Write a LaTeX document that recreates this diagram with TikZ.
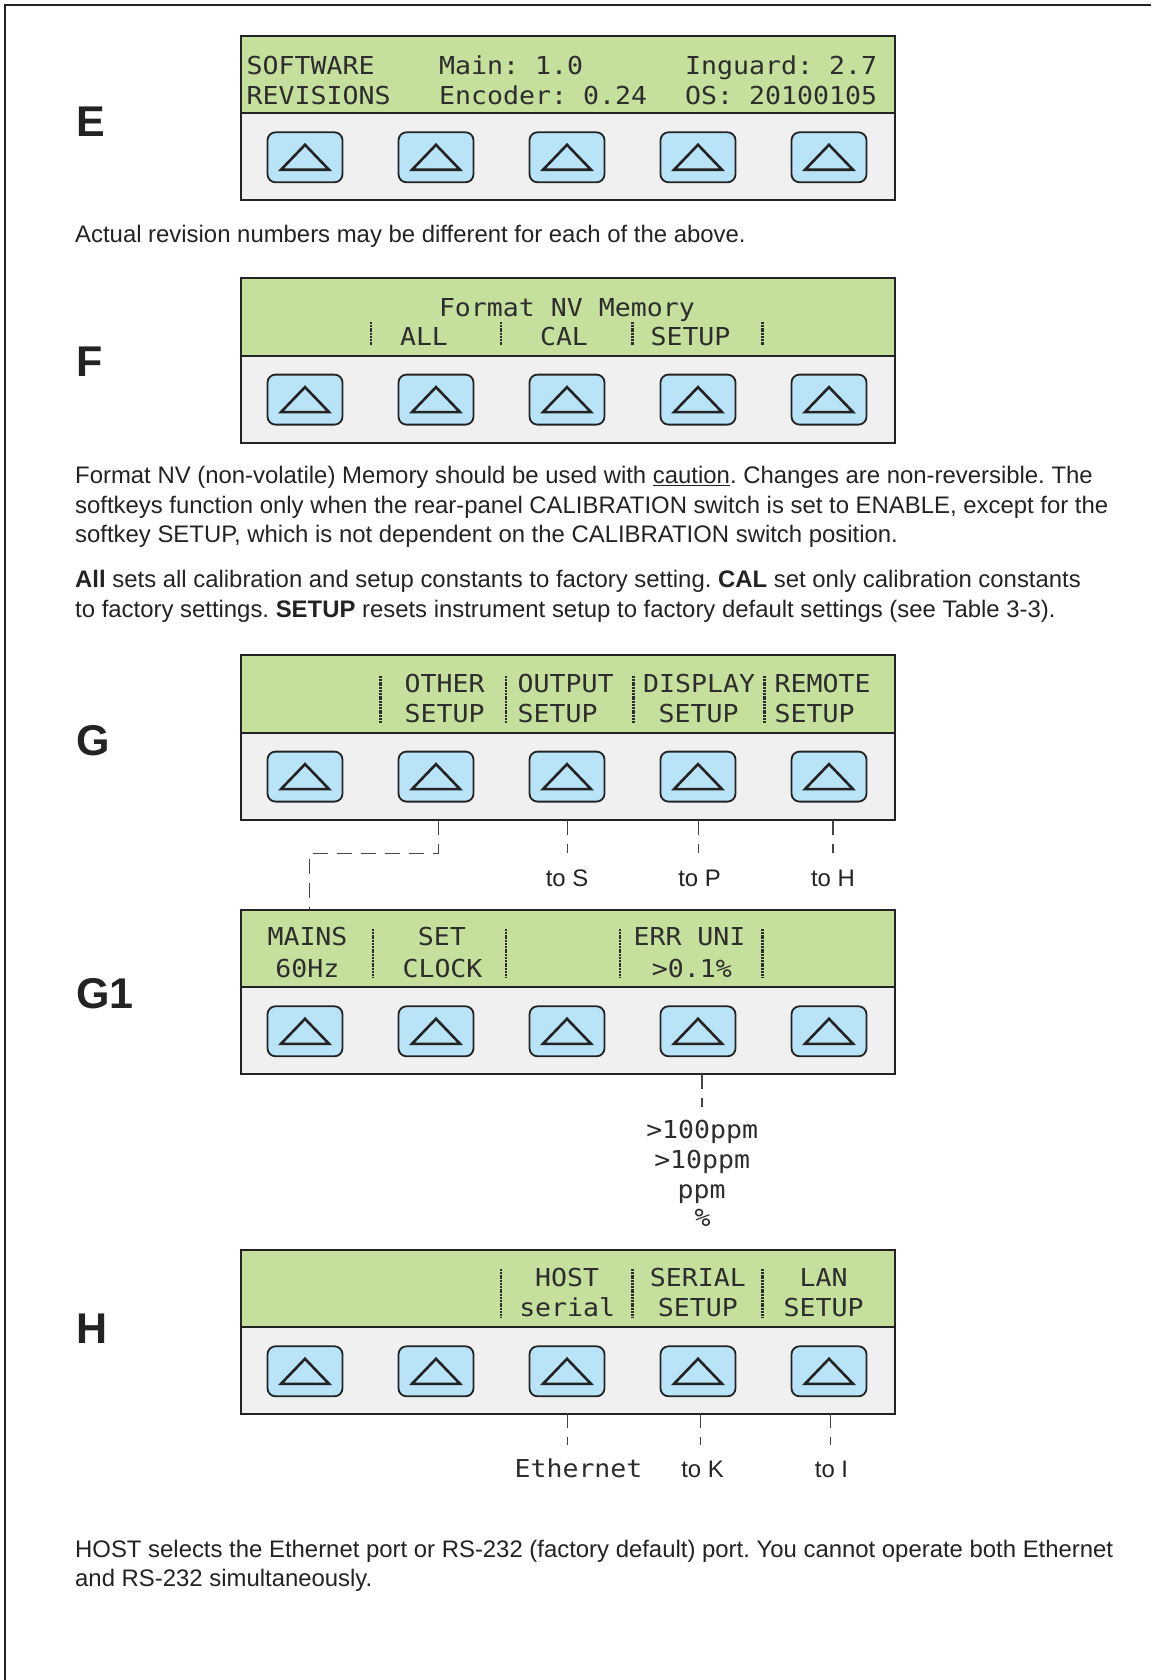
\documentclass[tikz,border=0pt]{standalone}
\usepackage{fontspec}
\setmainfont{Liberation Sans}
\newfontfamily\lcdfont[FakeStretch=1.075]{DejaVu Sans Mono}
\definecolor{lcdgreen}{RGB}{197,223,156}
\definecolor{keygray}{RGB}{240,240,240}
\definecolor{keyblue}{RGB}{185,227,247}
\definecolor{ink}{RGB}{35,35,35}
\definecolor{lcdink}{RGB}{45,45,45}
\tikzset{
  lcd/.style={font=\lcdfont\fontsize{24.7}{30}\selectfont, text=lcdink, inner sep=0pt},
  body/.style={font=\fontsize{23.9}{30}\selectfont, text=ink, inner sep=0pt, anchor=base west},
  tolab/.style={font=\fontsize{23.9}{30}\selectfont, text=ink, inner sep=0pt, anchor=base},
  bigl/.style={font=\bfseries\fontsize{43}{50}\selectfont, text=ink, inner sep=0pt, anchor=base west},
  keybox/.style={draw=ink, fill=keyblue, line width=1.8pt, rounded corners=8pt, minimum width=75pt, minimum height=50pt, inner sep=0pt},
  keytri/.style={draw=ink, line width=2.6pt, line join=miter},
  panelline/.style={draw=ink, line width=2pt},
  sepbar/.style={draw=lcdink, line width=2.6pt, dash pattern=on 2pt off 0.8pt},
  lead/.style={draw=ink!85, line width=1.6pt, dash pattern=on 15pt off 9pt},
}
\newcommand\lcdpanel[2]{%
  \begin{scope}[yshift=-#2pt]
    \fill[keygray] (241,77.3) rectangle (895,164.3);
    \fill[lcdgreen] (241,0) rectangle (895,77.3);
    \draw[panelline] (241,77.3) -- (895,77.3);
    \draw[panelline] (241,0) rectangle (895,164.3);
    \coordinate (#1top) at (568,0);
    \foreach \i/\cx in {1/305,2/436,3/567,4/698,5/829}{
      \node[keybox] (#1k\i) at (\cx,121.3) {};
      \draw[keytri] (\cx-24,133.8) -- (\cx,108.8) -- (\cx+24,133.8) -- cycle;
    }
  \end{scope}}
\begin{document}
\frenchspacing
\begin{tikzpicture}[x=1pt,y=-1pt]
\useasboundingbox (0,0) rectangle (1151,1680);
\fill[white] (0,0) rectangle (1151,1680);
\draw[draw=ink, line width=2.5pt] (5,1680) -- (5,5) -- (1151,5);

% ---------- E ----------
\node[bigl] (labE) at (76,136.5) {E};
\lcdpanel{E}{36}
\node[lcd, anchor=base west] (e11) at (246.5,75) {SOFTWARE};
\node[lcd, anchor=base west] (e12) at (439,75) {Main: 1.0};
\node[lcd, anchor=base west] (e13) at (685,75) {Inguard: 2.7};
\node[lcd, anchor=base west] (e21) at (246.5,104.3) {REVISIONS};
\node[lcd, anchor=base west] (e22) at (439,104.3) {Encoder: 0.24};
\node[lcd, anchor=base west] (e23) at (685,104.3) {OS: 20100105};
\node[body] (p1) at (75,243) {Actual revision numbers may be different for each of the above.};

% ---------- F ----------
\node[bigl] (labF) at (76,376) {F};
\lcdpanel{F}{278.3}
\node[lcd, anchor=base west] (f1) at (438.8,316.7) {Format NV Memory};
\node[lcd, anchor=base] (f2) at (424,345) {ALL};
\node[lcd, anchor=base] (f3) at (564,345) {CAL};
\node[lcd, anchor=base] (f4) at (690.5,345) {SETUP};
\foreach \x in {371,501,632.4,762.5} \draw[sepbar] (\x,322) -- (\x,345);

\node[body] (p2a) at (75,483.3) {Format NV (non-volatile) Memory should be used with \underline{caution}. Changes are non-reversible. The};
\node[body] (p2b) at (75,513.3) {softkeys function only when the rear-panel CALIBRATION switch is set to ENABLE, except for the};
\node[body] (p2c) at (75,542.3) {softkey SETUP, which is not dependent on the CALIBRATION switch position.};
\node[body] (p3a) at (75,587.3) {\textbf{All} sets all calibration and setup constants to factory setting. \textbf{CAL} set only calibration constants};
\node[body] (p3b) at (75,617.3) {to factory settings. \textbf{SETUP} resets instrument setup to factory default settings (see Table 3-3).};

% ---------- G ----------
\node[bigl] (labG) at (76,755) {G};
\lcdpanel{G}{655.3}
\node[lcd, anchor=base west] (g11) at (404.5,692.7) {OTHER};
\node[lcd, anchor=base west] (g12) at (517.5,692.7) {OUTPUT};
\node[lcd, anchor=base west] (g13) at (643,692.7) {DISPLAY};
\node[lcd, anchor=base west] (g14) at (774.5,692.7) {REMOTE};
\node[lcd, anchor=base west] (g21) at (404.5,722.7) {SETUP};
\node[lcd, anchor=base west] (g22) at (517.5,722.7) {SETUP};
\node[lcd, anchor=base west] (g23) at (658.5,722.7) {SETUP};
\node[lcd, anchor=base west] (g24) at (774.5,722.7) {SETUP};
\foreach \x in {380.7,506,633.3,764.3} \draw[sepbar] (\x,676) -- (\x,722.7);

\coordinate (Gd2) at (438.5,819.6);
\coordinate (Gc1) at (438.5,853.3);
\coordinate (Gc2) at (309.5,853.3);
\coordinate (Gd3) at (567.3,819.6);
\coordinate (Gd4) at (698.3,819.6);
\coordinate (Gd5) at (832.8,819.6);
\node[tolab] (toS) at (567,886.5) {to S};
\node[tolab] (toP) at (699.5,886.5) {to P};
\node[tolab] (toH) at (833,886.5) {to H};
\draw[lead] (Gd3) -- (Gd3 |- Gc1);
\draw[lead] (Gd4) -- (Gd4 |- Gc1);
\draw[lead] (Gd5) -- (Gd5 |- Gc1);

% ---------- G1 ----------
\node[bigl] (labG1) at (76,1008) {G1};
\lcdpanel{GA}{910}
\draw[lead] (Gd2) -- (Gc1) -- (Gc2) -- (Gc2 |- GAtop);
\node[lcd, anchor=base] (ga11) at (307.5,945) {MAINS};
\node[lcd, anchor=base] (ga21) at (307.3,977) {60Hz};
\node[lcd, anchor=base] (ga12) at (441.8,945) {SET};
\node[lcd, anchor=base] (ga22) at (442.5,977) {CLOCK};
\node[lcd, anchor=base] (ga14) at (689.5,945) {ERR UNI};
\node[lcd, anchor=base] (ga24) at (691.8,977) {>0.1\%};
\foreach \x in {373,506,620,762.5} \draw[sepbar] (\x,929) -- (\x,977);

\coordinate (GAd4) at (701.8,1073.6);
\coordinate (GAe4) at (701.8,1107);
\draw[lead] (GAd4) -- (GAe4);
\node[lcd, anchor=base] (u1) at (702.2,1138.6) {>100ppm};
\node[lcd, anchor=base] (u2) at (702.2,1168.3) {>10ppm};
\node[lcd, anchor=base] (u3) at (701.5,1198) {ppm};
\node[lcd, anchor=base] (u4) at (702.7,1226.7) {\%};

% ---------- H ----------
\node[bigl] (labH) at (76,1343) {H};
\lcdpanel{H}{1250}
\node[lcd, anchor=base] (h13) at (567.2,1286.7) {HOST};
\node[lcd, anchor=base] (h23) at (567.2,1316.7) {serial};
\node[lcd, anchor=base] (h14) at (697.8,1286.7) {SERIAL};
\node[lcd, anchor=base] (h24) at (697.9,1316.7) {SETUP};
\node[lcd, anchor=base] (h15) at (823.7,1286.7) {LAN};
\node[lcd, anchor=base] (h25) at (823.7,1316.7) {SETUP};
\foreach \x in {501,632.4,762.5} \draw[sepbar] (\x,1269) -- (\x,1316.7);

\coordinate (Hd3) at (567.4,1413.3);
\coordinate (Hd4) at (700.5,1413.3);
\coordinate (Hd5) at (830.6,1413.3);
\draw[lead] (Hd3) -- ++(0,32);
\draw[lead] (Hd4) -- ++(0,32);
\draw[lead] (Hd5) -- ++(0,32);
\node[lcd, anchor=base] (eth) at (578.5,1477) {Ethernet};
\node[tolab] (toK) at (702.5,1477) {to K};
\node[tolab] (toI) at (831.5,1477) {to I};

\node[body] (p4a) at (75,1557.2) {HOST selects the Ethernet port or RS-232 (factory default) port. You cannot operate both Ethernet};
\node[body] (p4b) at (75,1586.1) {and RS-232 simultaneously.};
\end{tikzpicture}
\end{document}
